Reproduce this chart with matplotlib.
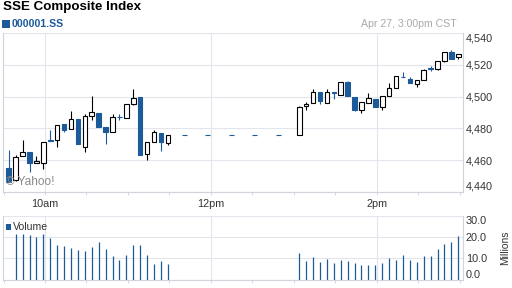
import matplotlib
matplotlib.use("Agg")
import matplotlib.pyplot as plt
from matplotlib.patches import Rectangle
from matplotlib.ticker import FuncFormatter, MultipleLocator

plt.rcParams['font.family'] = ['Liberation Sans', 'DejaVu Sans']

# ---------------- data ----------------
am_times = ["09:35", "09:40", "09:45", "09:50", "09:55", "10:00", "10:05", "10:10",
            "10:15", "10:20", "10:25", "10:30", "10:35", "10:40", "10:45", "10:50",
            "10:55", "11:00", "11:05", "11:10", "11:15", "11:20", "11:25", "11:30"]
am_open = [4454.9, 4447.5, 4462.9, 4465.3, 4458.1, 4458.1, 4472.6, 4472.9,
           4482.9, 4479.7, 4486.2, 4468.1, 4488.1, 4489.8, 4480.9, 4477.8,
           4487.5, 4486.7, 4495.6, 4499.7, 4463.8, 4471.4, 4477.1, 4471.0]
am_high = [4466.5, 4463.4, 4472.4, 4465.3, 4462.7, 4471.4, 4479.2, 4482.4,
           4482.9, 4490.7, 4486.2, 4488.8, 4500.4, 4489.8, 4480.9, 4488.8,
           4489.4, 4495.6, 4504.6, 4499.7, 4471.4, 4478.8, 4477.1, 4476.1]
am_low = [4446.4, 4446.8, 4462.3, 4452.8, 4458.1, 4454.3, 4472.1, 4468.4,
          4477.5, 4479.7, 4470.2, 4465.1, 4485.6, 4480.8, 4470.2, 4477.8,
          4485.6, 4486.7, 4494.7, 4463.4, 4460.2, 4471.4, 4465.5, 4469.4]
am_close = [4446.4, 4461.9, 4465.1, 4458.1, 4459.7, 4471.4, 4472.2, 4482.4,
            4478.8, 4486.0, 4470.2, 4488.1, 4490.2, 4480.8, 4477.7, 4487.3,
            4487.2, 4495.6, 4499.4, 4463.4, 4471.4, 4478.0, 4471.4, 4475.6]
am_volume = [0.0, 21.4, 21.4, 21.0, 20.2, 21.4, 19.7, 16.2,
             15.7, 14.8, 14.0, 13.3, 15.2, 17.8, 14.4, 11.1,
             9.2, 11.4, 16.2, 16.2, 11.4, 7.5, 8.6, 7.1]

lunch_times = ["11:42", "11:59", "12:16", "12:33", "12:50"]
lunch_level = 4475.6

pm_times = ["13:05", "13:10", "13:15", "13:20", "13:25", "13:30", "13:35", "13:40",
            "13:45", "13:50", "13:55", "14:00", "14:05", "14:10", "14:15", "14:20",
            "14:25", "14:30", "14:35", "14:40", "14:45", "14:50", "14:55", "15:00"]
pm_open = [4475.6, 4494.0, 4496.2, 4503.2, 4496.2, 4502.8, 4501.1, 4509.1,
           4500.0, 4491.5, 4496.2, 4498.7, 4493.4, 4500.4, 4505.6, 4512.6,
           4511.3, 4508.3, 4510.6, 4518.0, 4517.7, 4522.6, 4528.1, 4525.0]
pm_high = [4494.1, 4496.4, 4505.0, 4503.2, 4504.6, 4502.8, 4509.5, 4509.9,
           4500.0, 4496.6, 4502.1, 4498.7, 4500.4, 4508.4, 4513.1, 4515.4,
           4512.4, 4510.5, 4517.6, 4519.1, 4522.4, 4528.3, 4529.2, 4527.2]
pm_low = [4475.6, 4491.6, 4496.2, 4495.6, 4496.2, 4498.3, 4501.1, 4500.4,
          4490.9, 4489.7, 4496.2, 4493.4, 4491.5, 4500.4, 4505.2, 4512.2,
          4508.8, 4506.3, 4510.6, 4516.3, 4517.1, 4521.9, 4524.0, 4523.7]
pm_close = [4493.7, 4495.6, 4503.2, 4497.2, 4503.2, 4502.4, 4509.5, 4500.4,
            4491.5, 4496.6, 4498.9, 4493.4, 4500.4, 4505.7, 4513.1, 4512.2,
            4508.8, 4510.5, 4517.0, 4517.6, 4522.4, 4528.3, 4524.0, 4527.2]
pm_volume = [12.4, 8.6, 10.5, 8.1, 9.5, 7.6, 9.0, 8.6,
             7.6, 6.7, 6.7, 6.7, 7.6, 10.0, 9.0, 11.4,
             9.0, 8.1, 11.0, 11.0, 14.3, 16.7, 17.6, 20.5]

price_ticks = [4440, 4460, 4480, 4500, 4520, 4540]
volume_ticks = [0, 10, 20, 30]
hour_ticks = ["10:00", "12:00", "14:00"]
hour_labels = ["10am", "12pm", "2pm"]

title = "SSE Composite Index"
symbol = "000001.SS"
stamp = "Apr 27, 3:00pm CST"

# ---------------- style ----------------
BLUE = "#1d5a9a"
GRID = "#e2e5ec"
SPINE = "#cfd3da"
TXT = "#333333"
SHIFT = -1.2          # minutes, candle placement within period
BODY_W = 3.3          # minutes
W, H = 512, 288


def minutes(s):
    h, m = s.split(":")
    return int(h) * 60 + int(m)


fig = plt.figure(figsize=(W / 100, H / 100), dpi=100)
fig.patch.set_facecolor("white")

ax = fig.add_axes([3 / W, 96.2 / H, 460 / W, 158.5 / H])
axv = fig.add_axes([3 / W, 8.5 / H, 460 / W, 63.5 / H])

xmin = 600 - 42 / 1.3833
xmax = 600 + 418 / 1.3833

times = am_times + pm_times
opens = am_open + pm_open
highs = am_high + pm_high
lows = am_low + pm_low
closes = am_close + pm_close
vols = am_volume + pm_volume

for t, o, h, l, c in zip(times, opens, highs, lows, closes):
    x = minutes(t) + SHIFT
    up = c > o
    col = "black" if up else BLUE
    ax.vlines(x, l, h, color=col, lw=0.8, zorder=2)
    ax.add_patch(Rectangle((x - BODY_W / 2, min(o, c)), BODY_W, abs(c - o),
                           facecolor="white" if up else BLUE, edgecolor=col,
                           lw=0.8, zorder=3))

for t in lunch_times:
    x = minutes(t) + SHIFT
    ax.hlines(lunch_level, x - 1.8, x + 1.8, color=BLUE, lw=0.8, zorder=2)

for t, v in zip(times, vols):
    if v > 0:
        axv.vlines(minutes(t) + SHIFT, 0, v, color=BLUE, lw=0.9, zorder=2)

for a in (ax, axv):
    a.set_xlim(xmin, xmax)
    a.set_xticks([minutes(t) for t in hour_ticks])
    a.xaxis.set_minor_locator(MultipleLocator(30))
    a.tick_params(axis="x", which="both", direction="out", length=2.5,
                  color=SPINE, width=0.6)
    a.grid(True, which="major", color=GRID, lw=0.8, zorder=0)
    a.set_axisbelow(True)
    for s in ("left", "bottom", "right"):
        a.spines[s].set_color(SPINE)
        a.spines[s].set_linewidth(0.8)
    a.spines["top"].set_visible(False)
    a.yaxis.tick_right()
    a.tick_params(axis="y", length=0, pad=2, labelsize=7.8, labelcolor=TXT)

ax.set_xticklabels(hour_labels)
ax.tick_params(axis="x", which="major", labelsize=7.8, labelcolor=TXT, pad=3)
axv.set_xticklabels([])

ax.set_ylim(price_ticks[0], price_ticks[-1])
ax.set_yticks(price_ticks)
ax.yaxis.set_major_formatter(FuncFormatter(lambda v, p: f"{v:,.0f}"))

axv.set_ylim(volume_ticks[0], volume_ticks[-1])
axv.set_yticks(volume_ticks)
axv.yaxis.set_major_formatter(FuncFormatter(lambda v, p: f"{v:.1f}"))

fig.canvas.draw()
for a in (ax, axv):
    labs = a.get_yticklabels()
    labs[0].set_va("bottom")
    labs[-1].set_va("top")

# texts
fig.text(3 / W, 1 - 7 / H, title, fontsize=9.6, fontweight="bold",
         color="black", va="center", ha="left")
fig.patches.append(Rectangle((2 / W, 1 - 28 / H), 8 / W, 8 / H,
                             transform=fig.transFigure, facecolor=BLUE,
                             edgecolor="none"))
fig.text(12 / W, 1 - 24.2 / H, symbol, fontsize=7.6, fontweight="bold",
         color=BLUE, va="center", ha="left")
fig.text(457 / W, 1 - 24.2 / H, stamp, fontsize=7.6, color="#aaaaaa",
         va="center", ha="right")
fig.text(6 / W, 1 - 182 / H, "© Yahoo!", fontsize=8.6, color="#8a8a8a",
         va="center", ha="left")

fig.patches.append(Rectangle((6 / W, 1 - 230 / H), 5 / W, 6 / H,
                             transform=fig.transFigure, facecolor=BLUE,
                             edgecolor="none"))
fig.text(13 / W, 1 - 227 / H, "Volume", fontsize=7.6, color=TXT,
         va="center", ha="left")
fig.text(505 / W, 1 - 248 / H, "Millions", fontsize=7.4, color=TXT,
         va="center", ha="center", rotation=90)

fig.savefig("out.png", dpi=100, facecolor="white")
